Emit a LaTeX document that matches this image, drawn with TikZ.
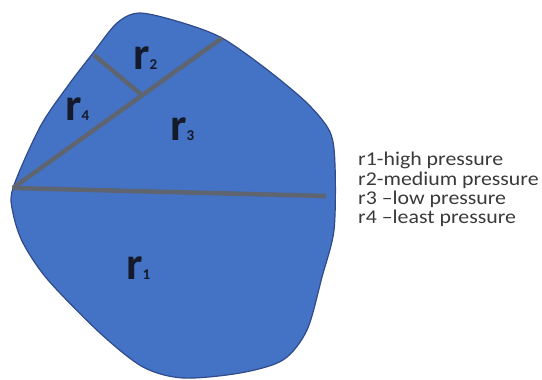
\documentclass[tikz,border=0pt]{standalone}
\usepackage{fontspec}
\setmainfont{Carlito}
\newfontfamily\legfont[FakeStretch=1.12]{Carlito}
\definecolor{shapefill}{HTML}{4472C4}
\definecolor{shapeline}{HTML}{2F4B8A}
\definecolor{divline}{HTML}{5E6470}
\definecolor{labelc}{HTML}{141A2A}
\definecolor{legendc}{HTML}{3A3A3A}
\begin{document}
\begin{tikzpicture}[x=1pt,y=-1pt]
\tikzset{
  divider/.style={draw=divline, line width=4.5pt},
  reg/.style={anchor=base west, inner sep=0pt, text=labelc, font=\bfseries},
  legend/.style={anchor=base west, inner sep=0pt, text=legendc, font=\legfont\fontsize{19.5}{19.5}\selectfont}
}
\useasboundingbox (0,0) rectangle (542,380);
\fill[shapefill, draw=shapeline, line width=1.2pt] plot[smooth cycle, tension=0.5] coordinates {
  (13,188) (40,127) (67,87) (93,53) (117,23) (140,13) (183,23) (222,38)
  (265,68) (307,103) (330,132) (335,165) (334,230) (322,277) (307,330)
  (283,360) (240,373) (183,378) (143,367) (100,333) (48,280) (23,243) (13,213)};
\coordinate (V) at (13,188);
\coordinate (E1) at (326,196);
\coordinate (E2) at (222,38);
\coordinate (J) at (143,96);
\coordinate (E3) at (94,55);
\draw[divider] (V) -- (E1);
\draw[divider] (V) -- (E2);
\draw[divider] (E3) -- (J);
\node[reg] (r2) at (133,70) {{\fontsize{46}{46}\selectfont r}{\fontsize{15}{15}\selectfont 2}};
\node[reg] (r4) at (65,120) {{\fontsize{46}{46}\selectfont r}{\fontsize{15}{15}\selectfont 4}};
\node[reg] (r3) at (170,140) {{\fontsize{46}{46}\selectfont r}{\fontsize{15}{15}\selectfont 3}};
\node[reg] (r1) at (126,279) {{\fontsize{46}{46}\selectfont r}{\fontsize{15}{15}\selectfont 1}};
\node[legend] (leg1) at (358,165) {r1-high pressure};
\node[legend] (leg2) at (358,185) {r2-medium pressure};
\node[legend] (leg3) at (358,204) {r3 –low pressure};
\node[legend] (leg4) at (358,223) {r4 –least pressure};
\end{tikzpicture}
\end{document}
